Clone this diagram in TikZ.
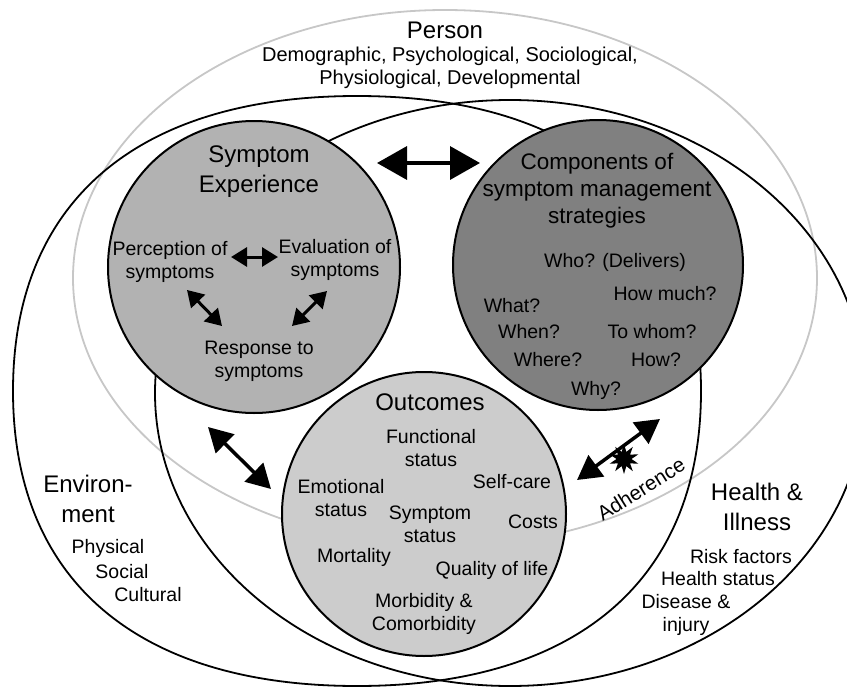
\documentclass[tikz,border=0pt]{standalone}
\usepackage{fontspec}
\setmainfont{Liberation Sans}
\usetikzlibrary{shapes.geometric,arrows.meta}

\begin{document}
\begin{tikzpicture}[x=1pt, y=-1pt, ring/.style={ellipse, draw=black, line width=1.8pt, inner sep=0pt}, ringline/.style={draw=black, line width=1.8pt}, bubble/.style={circle, draw=black, line width=2pt, inner sep=0pt}, headtext/.style={align=center, inner sep=0pt, font=\fontsize{24}{30}\selectfont}, itemtext/.style={align=center, inner sep=0pt, font=\fontsize{19.5}{23}\selectfont}, bigarrow/.style={{Triangle[length=30pt,width=33pt]}-{Triangle[length=30pt,width=33pt]}, line width=3.5pt}, midarrow/.style={{Triangle[length=24pt,width=26pt]}-{Triangle[length=24pt,width=26pt]}, line width=3.5pt}, smallarrow/.style={{Triangle[length=16pt,width=19pt]}-{Triangle[length=16pt,width=19pt]}, line width=3pt}]

\useasboundingbox (0,0) rectangle (847,688);

% outer rings
\node[ring, draw=black!22, minimum width=744pt, minimum height=536pt] (person) at (445,278) {};
% environment ring is a little fuller than an ellipse
\draw[ringline] (13,391) .. controls (13,202) and (137,96) .. (357,96) .. controls (577,96) and (701,202) .. (701,391) .. controls (701,580) and (577,686) .. (357,686) .. controls (137,686) and (13,580) .. (13,391) -- cycle;
\node[ring, minimum width=710pt, minimum height=586pt] (health) at (510,393) {};

% the three concepts
\node[bubble, fill=black!30, minimum size=292pt] (symp) at (254,267) {};
\node[bubble, fill=black!50, minimum size=290pt] (comp) at (598,265) {};
\node[bubble, fill=black!20, minimum size=284pt] (outc) at (424,514) {};

% person
\node[headtext] (persontitle) at (445,30) {Person};
\node[itemtext, font=\fontsize{20}{23}\selectfont] (persontext) at (450,68) {Demographic, Psychological, Sociological,\\Physiological, Developmental};

% symptom experience
\node[headtext] (symptitle) at (259,172) {Symptom\\Experience};
\node[itemtext] (perc) at (170,262) {Perception of\\symptoms};
\node[itemtext] (eval) at (335,260) {Evaluation of\\symptoms};
\node[itemtext] (resp) at (259,361) {Response to\\symptoms};

% components
\node[headtext, font=\fontsize{22.5}{27}\selectfont] (comptitle) at (597,191) {Components of\\symptom management\\strategies};
\node[itemtext] (who) at (615,262) {Who? (Delivers)};
\node[itemtext] (howmuch) at (665,294) {How much?};
\node[itemtext] (what) at (512,306) {What?};
\node[itemtext] (when) at (529,332) {When?};
\node[itemtext] (towhom) at (652,332) {To whom?};
\node[itemtext] (where) at (548,360) {Where?};
\node[itemtext] (how) at (656,360) {How?};
\node[itemtext] (why) at (596,390) {Why?};

% outcomes
\node[headtext] (outctitle) at (430,402) {Outcomes};
\node[itemtext] (func) at (431,448) {Functional\\status};
\node[itemtext] (emot) at (341,498) {Emotional\\status};
\node[itemtext] (selfcare) at (512,482) {Self-care};
\node[itemtext] (sympstat) at (430,524) {Symptom\\status};
\node[itemtext] (costs) at (533,522) {Costs};
\node[itemtext] (mort) at (354,557) {Mortality};
\node[itemtext] (qol) at (492,570) {Quality of life};
\node[itemtext] (morb) at (424,614) {Morbidity \&\\Comorbidity};

% environment
\node[headtext] (envtitle) at (88,499) {Environ-\\ment};
\node[itemtext] (phys) at (108,548) {Physical};
\node[itemtext] (soc) at (122,572) {Social};
\node[itemtext] (cult) at (148,595) {Cultural};

% health and illness
\node[headtext] (healthtitle) at (757,507) {Health \&\\Illness};
\node[itemtext] (risk) at (741,557) {Risk factors};
\node[itemtext] (status) at (718,579) {Health status};
\node[itemtext] (disease) at (686,615) {Disease \&\\injury};

% arrows
\coordinate (sympR) at (377,163);
\coordinate (compL) at (480,163);
\coordinate (percR) at (231,257);
\coordinate (evalL) at (278,257);
\coordinate (percB) at (187,290);
\coordinate (respL) at (222,326);
\coordinate (evalB) at (327,291);
\coordinate (respR) at (292,326);
\coordinate (sympB) at (208,427);
\coordinate (outcL) at (271,489);
\coordinate (outcR) at (577,480);
\coordinate (compB) at (660,419);
\draw[bigarrow] (sympR) -- (compL);
\draw[smallarrow] (percR) -- (evalL);
\draw[smallarrow] (percB) -- (respL);
\draw[smallarrow] (evalB) -- (respR);
\draw[midarrow] (sympB) -- (outcL);
\draw[midarrow] (outcR) -- (compB);
\node[star, star points=10, star point ratio=2, fill=black, minimum size=30pt, inner sep=0pt] (burst) at (624,459) {};
\node[itemtext, font=\fontsize{20.5}{24}\selectfont, rotate=32] (adh) at (641,489) {Adherence};

\end{tikzpicture}
\end{document}
